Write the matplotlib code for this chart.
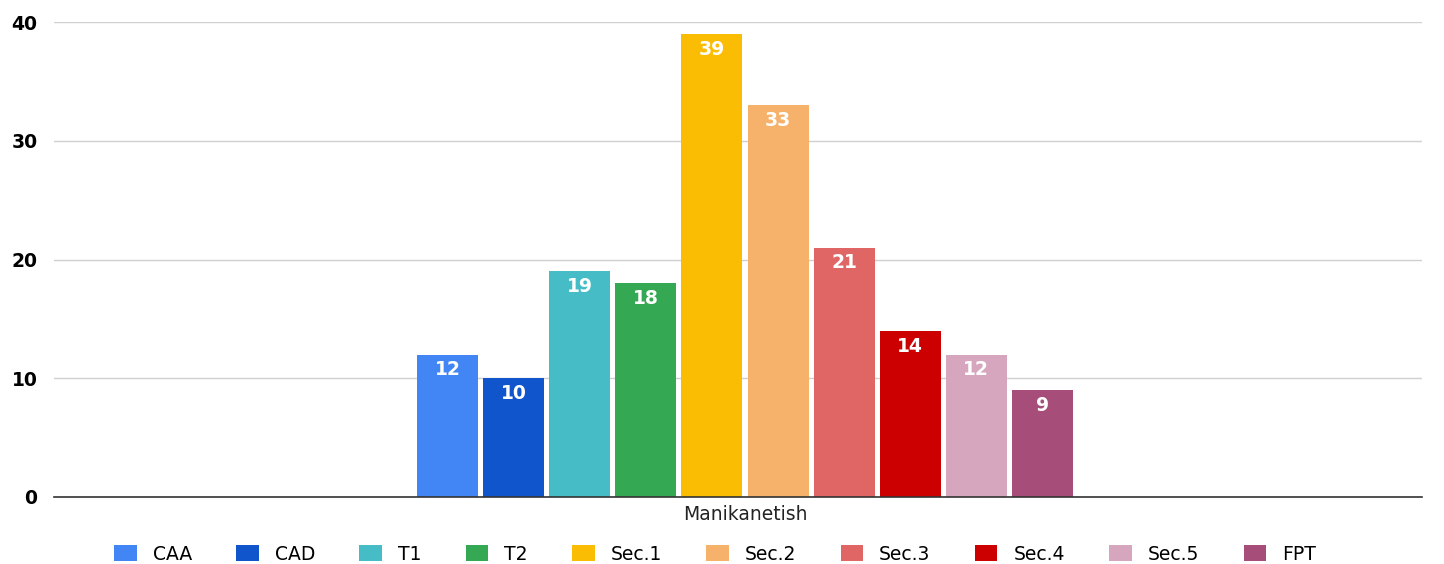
import numpy as np
import matplotlib.pyplot as plt
from matplotlib.patches import Patch

plt.rcParams['font.family'] = ['DejaVu Sans']

# ---- data ----
CATEGORY = "Manikanetish"
SERIES = ["CAA", "CAD", "T1", "T2", "Sec.1", "Sec.2", "Sec.3", "Sec.4", "Sec.5", "FPT"]
VALUES = [12, 10, 19, 18, 39, 33, 21, 14, 12, 9]
COLORS = ["#4285F4", "#1155CC", "#46BDC6", "#34A853", "#FBBC04",
          "#F6B26B", "#E06666", "#CC0000", "#D5A6BD", "#A64D79"]
Y_TICKS = [0, 10, 20, 30, 40]

fig = plt.figure(figsize=(14.44, 5.64), dpi=100)
ax = fig.add_axes([54 / 1444, 1 - 497 / 564, (1422 - 54) / 1444, (497 - 22) / 564])

n = len(SERIES)
slot = 0.04832
bar_w = slot * 61 / 66.1
offsets = (np.arange(n) - (n - 1) / 2) * slot

for off, val, col in zip(offsets, VALUES, COLORS):
    ax.bar(off, val, width=bar_w, color=col, zorder=3)
    ax.annotate(str(val), (off, val), xytext=(0, -11), textcoords="offset points",
                ha="center", va="center", color="white", fontsize=13.5,
                fontweight="bold", zorder=4)

ax.set_xlim(-0.5051, 0.4949)
ax.set_ylim(0, 40)
ax.set_yticks(Y_TICKS)
ax.set_yticklabels([str(t) for t in Y_TICKS], fontsize=13.5, fontweight="bold")
ax.set_xticks([0])
ax.set_xticklabels([CATEGORY], fontsize=13.5, color="#222222")
ax.tick_params(axis="both", length=0)
ax.tick_params(axis="y", pad=12)
ax.tick_params(axis="x", pad=6)
ax.grid(axis="y", color="#d0d0d0", linewidth=1, zorder=0)
for side in ["top", "right", "left"]:
    ax.spines[side].set_visible(False)
ax.spines["bottom"].set_color("#333333")
ax.spines["bottom"].set_linewidth(1.2)
ax.spines["bottom"].set_zorder(5)

handles = [Patch(facecolor=c, edgecolor="none") for c in COLORS]
fig.legend(handles, SERIES, loc="center", bbox_to_anchor=(715 / 1444, 1 - 554 / 564),
           ncol=n, frameon=False, fontsize=13.5, handlelength=1.2, handleheight=0.95,
           handletextpad=0.85, columnspacing=2.37)

fig.savefig("out.png", dpi=100)
